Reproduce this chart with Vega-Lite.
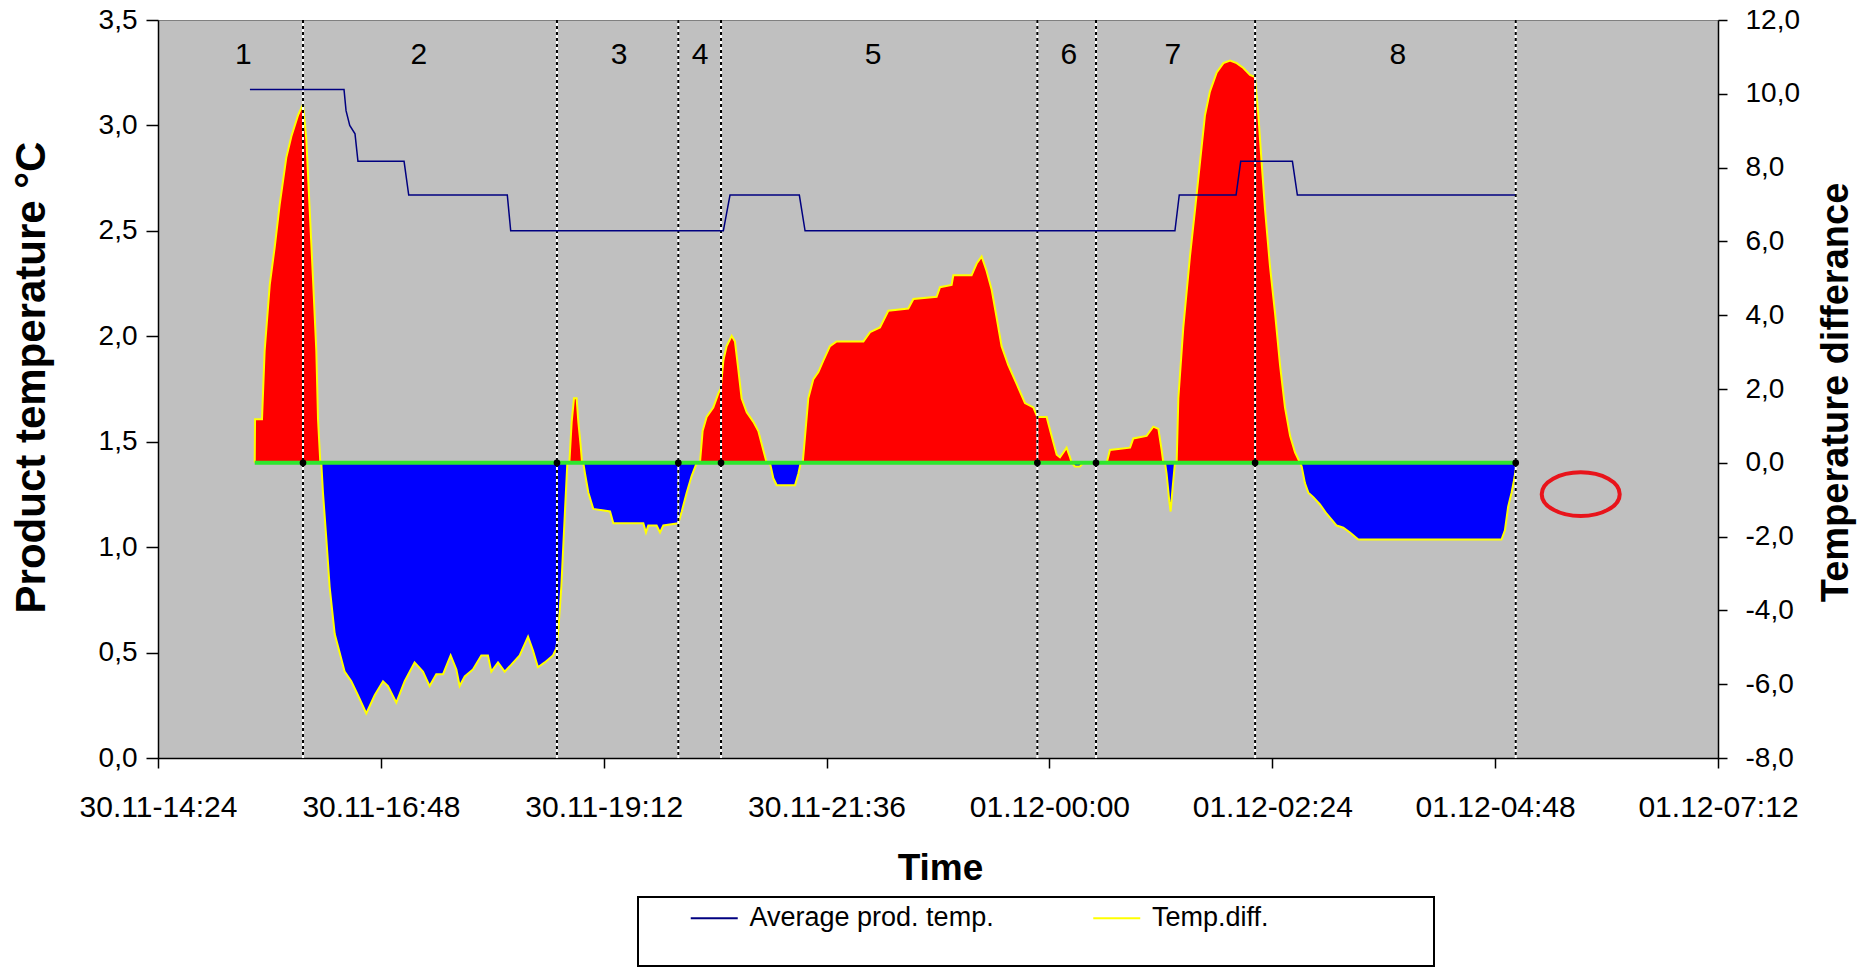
{
  "$schema": "https://vega.github.io/schema/vega-lite/v6.json",
  "width": 1560,
  "height": 738,
  "autosize": {"type": "none"},
  "padding": {"left": 158, "top": 20, "right": 145, "bottom": 209},
  "background": "white",
  "config": {
    "font": "Liberation Sans",
    "view": {"fill": "#C0C0C0", "stroke": "#808080", "strokeWidth": 1},
    "axis": {"grid": false, "domainColor": "black", "domainWidth": 1.5, "tickColor": "black", "tickWidth": 1.5, "labelColor": "black", "titleColor": "black", "labelFont": "Liberation Sans", "titleFont": "Liberation Sans", "labelFlush": false, "labelOverlap": false},
    "legend": {"strokeWidth": 2}
  },
  "datasets": {
    "diff": [
      {"time": "2008-11-30T15:26:30", "diff": 0},
      {"time": "2008-11-30T15:26:42", "diff": 1.18},
      {"time": "2008-11-30T15:31:12", "diff": 1.18},
      {"time": "2008-11-30T15:32:54", "diff": 3.03},
      {"time": "2008-11-30T15:36:12", "diff": 4.82},
      {"time": "2008-11-30T15:39:24", "diff": 5.84},
      {"time": "2008-11-30T15:42:36", "diff": 6.99},
      {"time": "2008-11-30T15:46:54", "diff": 8.27},
      {"time": "2008-11-30T15:50:12", "diff": 8.85},
      {"time": "2008-11-30T15:54:30", "diff": 9.42},
      {"time": "2008-11-30T15:57:42", "diff": 9.71},
      {"time": "2008-11-30T15:59:48", "diff": 8.79},
      {"time": "2008-11-30T16:02:00", "diff": 6.87},
      {"time": "2008-11-30T16:04:12", "diff": 4.95},
      {"time": "2008-11-30T16:06:18", "diff": 3.03},
      {"time": "2008-11-30T16:07:24", "diff": 1.18},
      {"time": "2008-11-30T16:08:54", "diff": 0},
      {"time": "2008-11-30T16:09:30", "diff": 0},
      {"time": "2008-11-30T16:10:36", "diff": -0.81},
      {"time": "2008-11-30T16:12:48", "diff": -2.08},
      {"time": "2008-11-30T16:14:54", "diff": -3.36},
      {"time": "2008-11-30T16:18:12", "diff": -4.64},
      {"time": "2008-11-30T16:21:24", "diff": -5.15},
      {"time": "2008-11-30T16:24:36", "diff": -5.66},
      {"time": "2008-11-30T16:28:54", "diff": -5.92},
      {"time": "2008-11-30T16:33:12", "diff": -6.3},
      {"time": "2008-11-30T16:38:36", "diff": -6.79},
      {"time": "2008-11-30T16:44:00", "diff": -6.3},
      {"time": "2008-11-30T16:49:24", "diff": -5.92},
      {"time": "2008-11-30T16:52:36", "diff": -6.05},
      {"time": "2008-11-30T16:58:00", "diff": -6.5},
      {"time": "2008-11-30T17:03:24", "diff": -5.92},
      {"time": "2008-11-30T17:09:48", "diff": -5.41},
      {"time": "2008-11-30T17:15:12", "diff": -5.66},
      {"time": "2008-11-30T17:19:30", "diff": -6.05},
      {"time": "2008-11-30T17:23:48", "diff": -5.73},
      {"time": "2008-11-30T17:28:12", "diff": -5.73},
      {"time": "2008-11-30T17:33:06", "diff": -5.22},
      {"time": "2008-11-30T17:36:48", "diff": -5.6},
      {"time": "2008-11-30T17:38:54", "diff": -6.05},
      {"time": "2008-11-30T17:42:12", "diff": -5.79},
      {"time": "2008-11-30T17:47:30", "diff": -5.6},
      {"time": "2008-11-30T17:52:54", "diff": -5.22},
      {"time": "2008-11-30T17:57:12", "diff": -5.22},
      {"time": "2008-11-30T17:59:24", "diff": -5.66},
      {"time": "2008-11-30T18:03:42", "diff": -5.41},
      {"time": "2008-11-30T18:08:00", "diff": -5.66},
      {"time": "2008-11-30T18:12:18", "diff": -5.47},
      {"time": "2008-11-30T18:17:42", "diff": -5.22},
      {"time": "2008-11-30T18:23:06", "diff": -4.71},
      {"time": "2008-11-30T18:26:18", "diff": -5.09},
      {"time": "2008-11-30T18:29:30", "diff": -5.54},
      {"time": "2008-11-30T18:33:54", "diff": -5.41},
      {"time": "2008-11-30T18:39:12", "diff": -5.22},
      {"time": "2008-11-30T18:41:24", "diff": -5.03},
      {"time": "2008-11-30T18:42:30", "diff": -4.64},
      {"time": "2008-11-30T18:44:36", "diff": -3.36},
      {"time": "2008-11-30T18:46:48", "diff": -1.45},
      {"time": "2008-11-30T18:48:30", "diff": 0},
      {"time": "2008-11-30T18:49:48", "diff": 0},
      {"time": "2008-11-30T18:51:18", "diff": 1.11},
      {"time": "2008-11-30T18:52:48", "diff": 1.75},
      {"time": "2008-11-30T18:54:30", "diff": 1.75},
      {"time": "2008-11-30T18:55:36", "diff": 1.11},
      {"time": "2008-11-30T18:57:06", "diff": 0.47},
      {"time": "2008-11-30T18:58:00", "diff": 0},
      {"time": "2008-11-30T18:58:48", "diff": 0},
      {"time": "2008-11-30T18:59:54", "diff": -0.29},
      {"time": "2008-11-30T19:02:06", "diff": -0.81},
      {"time": "2008-11-30T19:05:18", "diff": -1.25},
      {"time": "2008-11-30T19:16:06", "diff": -1.32},
      {"time": "2008-11-30T19:18:12", "diff": -1.64},
      {"time": "2008-11-30T19:37:36", "diff": -1.64},
      {"time": "2008-11-30T19:39:18", "diff": -1.89},
      {"time": "2008-11-30T19:40:48", "diff": -1.7},
      {"time": "2008-11-30T19:46:12", "diff": -1.7},
      {"time": "2008-11-30T19:48:24", "diff": -1.89},
      {"time": "2008-11-30T19:50:30", "diff": -1.7},
      {"time": "2008-11-30T20:00:12", "diff": -1.64},
      {"time": "2008-11-30T20:02:24", "diff": -1.32},
      {"time": "2008-11-30T20:05:36", "diff": -0.81},
      {"time": "2008-11-30T20:08:48", "diff": -0.36},
      {"time": "2008-11-30T20:12:06", "diff": 0},
      {"time": "2008-11-30T20:14:12", "diff": 0},
      {"time": "2008-11-30T20:15:54", "diff": 0.86},
      {"time": "2008-11-30T20:18:30", "diff": 1.24},
      {"time": "2008-11-30T20:22:48", "diff": 1.5},
      {"time": "2008-11-30T20:26:06", "diff": 1.88},
      {"time": "2008-11-30T20:27:36", "diff": 2.01},
      {"time": "2008-11-30T20:29:18", "diff": 2.77},
      {"time": "2008-11-30T20:31:24", "diff": 3.16},
      {"time": "2008-11-30T20:34:42", "diff": 3.44},
      {"time": "2008-11-30T20:36:48", "diff": 3.29},
      {"time": "2008-11-30T20:39:00", "diff": 2.52},
      {"time": "2008-11-30T20:41:06", "diff": 1.75},
      {"time": "2008-11-30T20:44:24", "diff": 1.37},
      {"time": "2008-11-30T20:48:42", "diff": 1.11},
      {"time": "2008-11-30T20:51:54", "diff": 0.86},
      {"time": "2008-11-30T20:55:06", "diff": 0.35},
      {"time": "2008-11-30T20:57:18", "diff": 0},
      {"time": "2008-11-30T20:59:24", "diff": 0},
      {"time": "2008-11-30T21:01:36", "diff": -0.42},
      {"time": "2008-11-30T21:03:48", "diff": -0.61},
      {"time": "2008-11-30T21:15:36", "diff": -0.61},
      {"time": "2008-11-30T21:17:48", "diff": -0.29},
      {"time": "2008-11-30T21:19:18", "diff": 0},
      {"time": "2008-11-30T21:20:36", "diff": 0},
      {"time": "2008-11-30T21:22:06", "diff": 0.73},
      {"time": "2008-11-30T21:24:12", "diff": 1.75},
      {"time": "2008-11-30T21:27:24", "diff": 2.26},
      {"time": "2008-11-30T21:30:42", "diff": 2.46},
      {"time": "2008-11-30T21:33:54", "diff": 2.77},
      {"time": "2008-11-30T21:38:12", "diff": 3.16},
      {"time": "2008-11-30T21:42:30", "diff": 3.29},
      {"time": "2008-11-30T21:59:48", "diff": 3.29},
      {"time": "2008-11-30T22:04:06", "diff": 3.54},
      {"time": "2008-11-30T22:10:30", "diff": 3.67},
      {"time": "2008-11-30T22:15:54", "diff": 4.12},
      {"time": "2008-11-30T22:28:48", "diff": 4.18},
      {"time": "2008-11-30T22:32:06", "diff": 4.44},
      {"time": "2008-11-30T22:47:06", "diff": 4.5},
      {"time": "2008-11-30T22:49:18", "diff": 4.76},
      {"time": "2008-11-30T22:56:48", "diff": 4.82},
      {"time": "2008-11-30T22:57:54", "diff": 5.08},
      {"time": "2008-11-30T23:09:42", "diff": 5.08},
      {"time": "2008-11-30T23:13:00", "diff": 5.4},
      {"time": "2008-11-30T23:16:12", "diff": 5.59},
      {"time": "2008-11-30T23:19:24", "diff": 5.2},
      {"time": "2008-11-30T23:22:42", "diff": 4.69},
      {"time": "2008-11-30T23:25:54", "diff": 3.93},
      {"time": "2008-11-30T23:29:06", "diff": 3.16},
      {"time": "2008-11-30T23:33:24", "diff": 2.65},
      {"time": "2008-11-30T23:38:48", "diff": 2.14},
      {"time": "2008-11-30T23:44:12", "diff": 1.62},
      {"time": "2008-11-30T23:49:36", "diff": 1.5},
      {"time": "2008-11-30T23:52:12", "diff": 1.24},
      {"time": "2008-11-30T23:58:12", "diff": 1.24},
      {"time": "2008-12-01T00:01:24", "diff": 0.73},
      {"time": "2008-12-01T00:04:42", "diff": 0.22},
      {"time": "2008-12-01T00:06:48", "diff": 0.15},
      {"time": "2008-12-01T00:09:00", "diff": 0.28},
      {"time": "2008-12-01T00:11:06", "diff": 0.41},
      {"time": "2008-12-01T00:13:18", "diff": 0.15},
      {"time": "2008-12-01T00:14:24", "diff": 0},
      {"time": "2008-12-01T00:16:30", "diff": -0.1},
      {"time": "2008-12-01T00:19:42", "diff": -0.1},
      {"time": "2008-12-01T00:21:54", "diff": 0},
      {"time": "2008-12-01T00:37:00", "diff": 0},
      {"time": "2008-12-01T00:39:06", "diff": 0.35},
      {"time": "2008-12-01T00:52:06", "diff": 0.41},
      {"time": "2008-12-01T00:54:12", "diff": 0.66},
      {"time": "2008-12-01T01:02:48", "diff": 0.73},
      {"time": "2008-12-01T01:07:06", "diff": 0.98},
      {"time": "2008-12-01T01:10:24", "diff": 0.92},
      {"time": "2008-12-01T01:12:30", "diff": 0.35},
      {"time": "2008-12-01T01:13:36", "diff": 0},
      {"time": "2008-12-01T01:14:42", "diff": 0},
      {"time": "2008-12-01T01:15:42", "diff": -0.29},
      {"time": "2008-12-01T01:17:30", "diff": -1.06},
      {"time": "2008-12-01T01:18:18", "diff": -1.32},
      {"time": "2008-12-01T01:19:36", "diff": -0.68},
      {"time": "2008-12-01T01:21:06", "diff": 0},
      {"time": "2008-12-01T01:22:12", "diff": 0},
      {"time": "2008-12-01T01:23:18", "diff": 1.75},
      {"time": "2008-12-01T01:26:30", "diff": 3.67},
      {"time": "2008-12-01T01:30:48", "diff": 5.59},
      {"time": "2008-12-01T01:34:06", "diff": 6.87},
      {"time": "2008-12-01T01:37:18", "diff": 8.15},
      {"time": "2008-12-01T01:40:30", "diff": 9.42},
      {"time": "2008-12-01T01:43:42", "diff": 10.06},
      {"time": "2008-12-01T01:48:06", "diff": 10.58},
      {"time": "2008-12-01T01:52:24", "diff": 10.83},
      {"time": "2008-12-01T01:56:42", "diff": 10.9},
      {"time": "2008-12-01T02:01:00", "diff": 10.83},
      {"time": "2008-12-01T02:05:18", "diff": 10.7},
      {"time": "2008-12-01T02:09:36", "diff": 10.51},
      {"time": "2008-12-01T02:12:48", "diff": 10.45},
      {"time": "2008-12-01T02:15:00", "diff": 9.42},
      {"time": "2008-12-01T02:17:06", "diff": 8.15},
      {"time": "2008-12-01T02:19:18", "diff": 6.87},
      {"time": "2008-12-01T02:22:30", "diff": 5.33},
      {"time": "2008-12-01T02:25:48", "diff": 4.05},
      {"time": "2008-12-01T02:29:00", "diff": 2.65},
      {"time": "2008-12-01T02:32:12", "diff": 1.5},
      {"time": "2008-12-01T02:35:30", "diff": 0.73},
      {"time": "2008-12-01T02:38:42", "diff": 0.28},
      {"time": "2008-12-01T02:41:54", "diff": 0},
      {"time": "2008-12-01T02:43:00", "diff": -0.1},
      {"time": "2008-12-01T02:45:06", "diff": -0.55},
      {"time": "2008-12-01T02:47:18", "diff": -0.81},
      {"time": "2008-12-01T02:50:30", "diff": -0.93},
      {"time": "2008-12-01T02:54:48", "diff": -1.13},
      {"time": "2008-12-01T02:59:06", "diff": -1.38},
      {"time": "2008-12-01T03:05:36", "diff": -1.7},
      {"time": "2008-12-01T03:09:54", "diff": -1.76},
      {"time": "2008-12-01T03:14:12", "diff": -1.89},
      {"time": "2008-12-01T03:19:36", "diff": -2.08},
      {"time": "2008-12-01T04:52:06", "diff": -2.08},
      {"time": "2008-12-01T04:54:18", "diff": -1.83},
      {"time": "2008-12-01T04:56:24", "diff": -1.19},
      {"time": "2008-12-01T04:58:36", "diff": -0.81},
      {"time": "2008-12-01T05:00:06", "diff": -0.49},
      {"time": "2008-12-01T05:01:24", "diff": -0.17}
    ],
    "avg": [
      {"time": "2008-11-30T15:23:24", "temp": 3.17},
      {"time": "2008-11-30T16:24:12", "temp": 3.17},
      {"time": "2008-11-30T16:25:30", "temp": 3.07},
      {"time": "2008-11-30T16:27:54", "temp": 3.0},
      {"time": "2008-11-30T16:31:18", "temp": 2.96},
      {"time": "2008-11-30T16:33:12", "temp": 2.83},
      {"time": "2008-11-30T17:03:00", "temp": 2.83},
      {"time": "2008-11-30T17:06:00", "temp": 2.67},
      {"time": "2008-11-30T18:09:42", "temp": 2.67},
      {"time": "2008-11-30T18:11:54", "temp": 2.5},
      {"time": "2008-11-30T20:29:18", "temp": 2.5},
      {"time": "2008-11-30T20:33:36", "temp": 2.67},
      {"time": "2008-11-30T21:18:24", "temp": 2.67},
      {"time": "2008-11-30T21:22:06", "temp": 2.5},
      {"time": "2008-12-01T01:21:06", "temp": 2.5},
      {"time": "2008-12-01T01:23:54", "temp": 2.67},
      {"time": "2008-12-01T02:00:36", "temp": 2.67},
      {"time": "2008-12-01T02:03:36", "temp": 2.83},
      {"time": "2008-12-01T02:37:00", "temp": 2.83},
      {"time": "2008-12-01T02:40:12", "temp": 2.67},
      {"time": "2008-12-01T05:00:54", "temp": 2.67}
    ],
    "phaseEnds": [
      {"time": "2008-11-30T15:57:42", "phase": 1},
      {"time": "2008-11-30T18:41:48", "phase": 2},
      {"time": "2008-11-30T20:00:12", "phase": 3},
      {"time": "2008-11-30T20:27:48", "phase": 4},
      {"time": "2008-11-30T23:52:12", "phase": 5},
      {"time": "2008-12-01T00:30:06", "phase": 6},
      {"time": "2008-12-01T02:12:54", "phase": 7},
      {"time": "2008-12-01T05:01:18", "phase": 8}
    ],
    "phaseLabels": [
      {"time": "2008-11-30T15:19:12", "phase": "1"},
      {"time": "2008-11-30T17:12:36", "phase": "2"},
      {"time": "2008-11-30T19:21:54", "phase": "3"},
      {"time": "2008-11-30T20:14:12", "phase": "4"},
      {"time": "2008-11-30T22:06:00", "phase": "5"},
      {"time": "2008-12-01T00:12:36", "phase": "6"},
      {"time": "2008-12-01T01:19:48", "phase": "7"},
      {"time": "2008-12-01T03:45:12", "phase": "8"}
    ],
    "marker": [
      {"time": "2008-12-01T05:43:18", "diff": -0.85}
    ]
  },
  "encoding": {
    "x": {
      "field": "time",
      "type": "temporal",
      "scale": {
        "domain": [
          {"year": 2008, "month": 11, "date": 30, "hours": 14, "minutes": 24},
          {"year": 2008, "month": 12, "date": 1, "hours": 7, "minutes": 12}
        ],
        "nice": false
      },
      "axis": {
        "title": "Time",
        "values": [
          {"year": 2008, "month": 11, "date": 30, "hours": 14, "minutes": 24},
          {"year": 2008, "month": 11, "date": 30, "hours": 16, "minutes": 48},
          {"year": 2008, "month": 11, "date": 30, "hours": 19, "minutes": 12},
          {"year": 2008, "month": 11, "date": 30, "hours": 21, "minutes": 36},
          {"year": 2008, "month": 12, "date": 1, "hours": 0, "minutes": 0},
          {"year": 2008, "month": 12, "date": 1, "hours": 2, "minutes": 24},
          {"year": 2008, "month": 12, "date": 1, "hours": 4, "minutes": 48},
          {"year": 2008, "month": 12, "date": 1, "hours": 7, "minutes": 12}
        ],
        "format": "%d.%m-%H:%M",
        "formatType": "time",
        "tickSize": 10,
        "labelPadding": 39,
        "labelBaseline": "middle",
        "labelFontSize": 30,
        "titleFontSize": 37,
        "titleFontWeight": "bold",
        "titleX": 782,
        "titleY": 110,
        "titleBaseline": "middle",
        "titleAlign": "center"
      }
    }
  },
  "resolve": {"scale": {"y": "independent"}},
  "layer": [
    {
      "data": {"name": "diff"},
      "transform": [{"filter": "datum.diff >= 0"}],
      "mark": {"type": "area", "color": "#FF0000"},
      "encoding": {
        "y": {
          "field": "diff",
          "type": "quantitative",
          "scale": {"domain": [-8, 12], "nice": false, "zero": false},
          "axis": {
            "orient": "right",
            "title": "Temperature differance",
            "values": [-8, -6, -4, -2, 0, 2, 4, 6, 8, 10, 12],
            "labelExpr": "replace(replace(format(datum.value, '.1f'), '.', ','), '\u2212', '-')",
            "tickSize": 9,
            "labelPadding": 18,
            "labelFontSize": 28,
            "titleFontSize": 38,
            "titleFontWeight": "bold",
            "titleAngle": 270,
            "titleX": 118,
            "titleY": 372,
            "titleBaseline": "middle",
            "titleAlign": "center"
          }
        },
        "y2": {"datum": 0}
      }
    },
    {
      "data": {"name": "diff"},
      "transform": [{"filter": "datum.diff <= 0"}],
      "mark": {"type": "area", "color": "#0000FF"},
      "encoding": {
        "y": {"field": "diff", "type": "quantitative", "scale": {"domain": [-8, 12], "nice": false, "zero": false}, "axis": null},
        "y2": {"datum": 0}
      }
    },
    {
      "data": {"name": "diff"},
      "mark": {"type": "line", "strokeWidth": 2},
      "encoding": {
        "y": {"field": "diff", "type": "quantitative", "scale": {"domain": [-8, 12], "nice": false, "zero": false}, "axis": null},
        "stroke": {
          "datum": "Temp.diff.",
          "type": "nominal",
          "scale": {"domain": ["Average prod. temp.", "Temp.diff.", " "], "range": ["#000080", "#FFFF00", "#FFFFFF"]},
          "legend": {
            "orient": "none",
            "legendX": 480,
            "legendY": 877,
            "title": "\u2003\u2003\u2003\u2003\u2003\u2003\u2003\u2003\u2003\u2003",
            "titleOrient": "bottom",
            "titleFontSize": 20.2,
            "titlePadding": 6,
            "titleLimit": 1200,
            "direction": "horizontal",
            "columns": 3,
            "symbolType": "M -1 0 H 3",
            "symbolSize": 552,
            "symbolStrokeWidth": 2,
            "labelFontSize": 27,
            "labelFont": "Liberation Sans",
            "labelColor": "black",
            "labelLimit": 400,
            "labelOffset": 33.5,
            "columnPadding": 53.5,
            "padding": 7.5,
            "symbolOffset": 43.5,
            "strokeColor": "black",
            "fillColor": "white"
          }
        }
      }
    },
    {
      "data": {"name": "diff"},
      "mark": {"type": "line", "color": "#2EE62E", "strokeWidth": 4},
      "encoding": {
        "y": {"datum": 0, "type": "quantitative", "scale": {"domain": [-8, 12], "nice": false, "zero": false}, "axis": null}
      }
    },
    {
      "data": {"name": "phaseEnds"},
      "mark": {"type": "rule", "color": "white", "strokeWidth": 2},
      "encoding": {}
    },
    {
      "data": {"name": "phaseEnds"},
      "mark": {"type": "rule", "color": "black", "strokeWidth": 2, "strokeDash": [3, 3]},
      "encoding": {}
    },
    {
      "data": {"name": "phaseEnds"},
      "mark": {"type": "point", "filled": true, "color": "black", "size": 45, "opacity": 1},
      "encoding": {
        "y": {"datum": 0, "type": "quantitative", "scale": {"domain": [-8, 12], "nice": false, "zero": false}, "axis": null}
      }
    },
    {
      "data": {"name": "phaseLabels"},
      "mark": {"type": "text", "fontSize": 30, "color": "black", "baseline": "middle", "align": "center", "font": "Liberation Sans"},
      "encoding": {
        "text": {"field": "phase", "type": "nominal"},
        "y": {"datum": 11.05, "type": "quantitative", "scale": {"domain": [-8, 12], "nice": false, "zero": false}, "axis": null}
      }
    },
    {
      "data": {"name": "marker"},
      "mark": {"type": "point", "shape": "M -1 0 A 1 0.56 0 1 0 1 0 A 1 0.56 0 1 0 -1 0 Z", "filled": false, "color": "#E8141B", "strokeWidth": 4, "size": 6084, "opacity": 1},
      "encoding": {
        "y": {"field": "diff", "type": "quantitative", "scale": {"domain": [-8, 12], "nice": false, "zero": false}, "axis": null}
      }
    },
    {
      "data": {"name": "avg"},
      "mark": {"type": "line", "strokeWidth": 1.5},
      "encoding": {
        "y": {
          "field": "temp",
          "type": "quantitative",
          "scale": {"domain": [0, 3.5], "nice": false},
          "axis": {
            "orient": "left",
            "title": "Product temperature °C",
            "values": [0, 0.5, 1, 1.5, 2, 2.5, 3, 3.5],
            "labelExpr": "replace(format(datum.value, '.1f'), '.', ',')",
            "tickSize": 12,
            "labelPadding": 9,
            "labelFontSize": 28,
            "titleFontSize": 42,
            "titleFontWeight": "bold",
            "titleAngle": 270,
            "titleX": -127,
            "titleY": 357,
            "titleBaseline": "middle",
            "titleAlign": "center"
          }
        },
        "stroke": {
          "datum": "Average prod. temp.",
          "type": "nominal",
          "scale": {"domain": ["Average prod. temp.", "Temp.diff.", " "], "range": ["#000080", "#FFFF00", "#FFFFFF"]}
        }
      }
    }
  ]
}
